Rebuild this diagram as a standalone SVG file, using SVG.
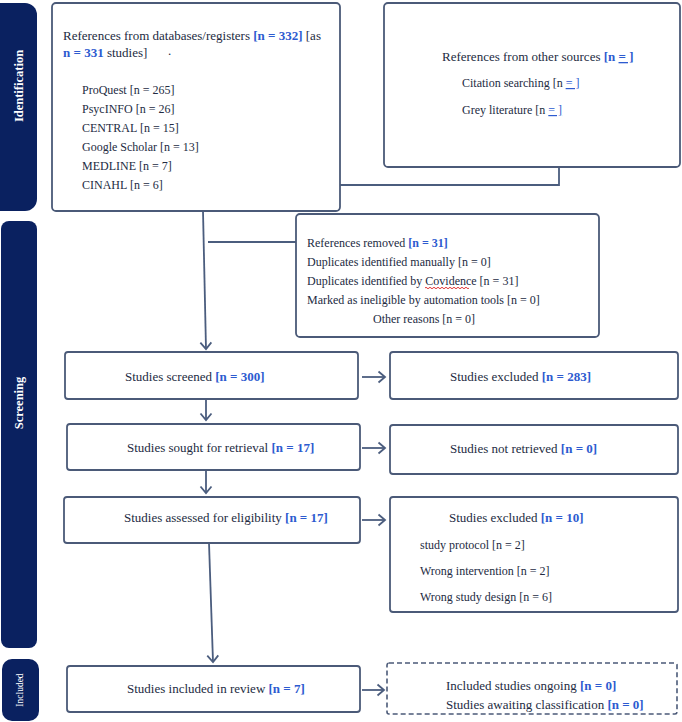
<svg xmlns="http://www.w3.org/2000/svg" width="682" height="722" viewBox="0 0 682 722">
<style>
.box{fill:#fff;stroke:#4b5a78;stroke-width:1.8}
.dash{fill:#fff;stroke:#4b5a78;stroke-width:1.6;stroke-dasharray:5,3}
.bar{fill:#0a2160}
.t{font-family:"Liberation Serif","DejaVu Serif","Times New Roman",serif;font-size:13px;fill:#232b42}
.s{font-size:12px}
.b{fill:#2d5bd0;font-weight:bold}
.u{fill:#2d5bd0;text-decoration:underline}
.side{font-family:"Liberation Serif","DejaVu Serif","Times New Roman",serif;font-weight:bold;fill:#fff;font-size:12.5px}
.c{fill:none;stroke:#4b5d7e;stroke-width:1.8}
</style>
<defs>
<marker id="ah" markerUnits="userSpaceOnUse" markerWidth="14" markerHeight="14" viewBox="-8 -7 10 14" refX="0" refY="0" orient="auto">
<path d="M-6.5,-5.5 L0,0 L-6.5,5.5" fill="none" stroke="#4b5d7e" stroke-width="1.8"/>
</marker>
</defs>
<rect width="682" height="722" fill="#fff"/>

<g id="bar-identification">
<rect class="bar" x="-14" y="3" width="51" height="208" rx="12"/>
<text class="side" transform="translate(23,86) rotate(-90)" text-anchor="middle">Identification</text>
</g>
<g id="bar-screening">
<rect class="bar" x="1" y="221" width="36" height="427" rx="8"/>
<text class="side" transform="translate(23,403) rotate(-90)" text-anchor="middle">Screening</text>
</g>
<g id="bar-included">
<rect class="bar" x="2" y="659" width="37" height="62" rx="10"/>
<text class="side" transform="translate(23,690) rotate(-90)" text-anchor="middle" style="font-size:9.5px;font-weight:normal">Included</text>
</g>

<g id="connectors">
<path class="c" d="M203,211 L206,349" marker-end="url(#ah)"/>
<path class="c" d="M208,242 H296"/>
<path class="c" d="M559,167 V185 H244"/>
<path class="c" d="M362,377 H385" marker-end="url(#ah)"/>
<path class="c" d="M206,399 V420" marker-end="url(#ah)"/>
<path class="c" d="M362,448 H385" marker-end="url(#ah)"/>
<path class="c" d="M206,470 V493" marker-end="url(#ah)"/>
<path class="c" d="M362,520 H385" marker-end="url(#ah)"/>
<path class="c" d="M209,543 L213,662" marker-end="url(#ah)"/>
<path class="c" d="M362,690 H384" marker-end="url(#ah)"/>
</g>

<g id="node-databases">
<rect class="box" x="52" y="3" width="288" height="208" rx="4"/>
<text class="t" x="63" y="40">References from databases/registers <tspan class="b">[n = 332]</tspan> [as</text>
<text class="t" x="63" y="57"><tspan class="b">n = 331</tspan> studies]</text>
<text class="t" x="168" y="55">.</text>
<text class="t s" x="82" y="94">ProQuest [n = 265]</text>
<text class="t s" x="82" y="113">PsycINFO [n = 26]</text>
<text class="t s" x="82" y="132">CENTRAL [n = 15]</text>
<text class="t s" x="82" y="151">Google Scholar [n = 13]</text>
<text class="t s" x="82" y="170">MEDLINE [n = 7]</text>
<text class="t s" x="82" y="189">CINAHL [n = 6]</text>
</g>

<g id="node-other-sources">
<rect class="box" x="384" y="3" width="296" height="164" rx="4"/>
<text class="t" x="442" y="61">References from other sources <tspan class="b">[n </tspan><tspan class="u" font-weight="bold">= ]</tspan></text>
<text class="t s" x="462" y="87">Citation searching [n <tspan class="u">= ]</tspan></text>
<text class="t s" x="462" y="114">Grey literature [n <tspan class="u">= ]</tspan></text>
</g>

<g id="node-removed">
<rect class="box" x="296" y="214" width="303" height="123" rx="4"/>
<text class="t s" x="307" y="247">References removed <tspan class="b">[n = 31]</tspan></text>
<text class="t s" x="307" y="266">Duplicates identified manually [n = 0]</text>
<text class="t s" x="307" y="285">Duplicates identified by Covidence [n = 31]</text>
<path d="M425,288 q1,-1.5 2,0 t2,0 t2,0 t2,0 t2,0 t2,0 t2,0 t2,0 t2,0 t2,0 t2,0 t2,0 t2,0 t2,0 t2,0 t2,0 t2,0 t2,0 t2,0 t2,0 t2,0 t2,0" fill="none" stroke="#d22" stroke-width="0.9"/>
<text class="t s" x="307" y="304">Marked as ineligible by automation tools [n = 0]</text>
<text class="t s" x="373" y="323">Other reasons [n = 0]</text>
</g>

<g id="node-screened">
<rect class="box" x="65" y="352" width="293" height="47" rx="3"/>
<text class="t" x="125" y="381">Studies screened <tspan class="b">[n = 300]</tspan></text>
</g>
<g id="node-excluded-283">
<rect class="box" x="390" y="352" width="288" height="47" rx="3"/>
<text class="t" x="450" y="381">Studies excluded <tspan class="b">[n = 283]</tspan></text>
</g>
<g id="node-sought">
<rect class="box" x="67" y="424" width="293" height="46" rx="3"/>
<text class="t" x="127" y="452">Studies sought for retrieval <tspan class="b">[n = 17]</tspan></text>
</g>
<g id="node-not-retrieved">
<rect class="box" x="390" y="425" width="288" height="49" rx="3"/>
<text class="t" x="450" y="453">Studies not retrieved <tspan class="b">[n = 0]</tspan></text>
</g>
<g id="node-assessed">
<rect class="box" x="64" y="497" width="296" height="46" rx="3"/>
<text class="t" x="124" y="522">Studies assessed for eligibility <tspan class="b">[n = 17]</tspan></text>
</g>
<g id="node-excluded-10">
<rect class="box" x="390" y="497" width="288" height="115" rx="3"/>
<text class="t" x="449" y="522">Studies excluded <tspan class="b">[n = 10]</tspan></text>
<text class="t s" x="420" y="549">study protocol [n = 2]</text>
<text class="t s" x="420" y="575">Wrong intervention [n = 2]</text>
<text class="t s" x="420" y="601">Wrong study design [n = 6]</text>
</g>
<g id="node-included">
<rect class="box" x="67" y="666" width="293" height="46" rx="3"/>
<text class="t" x="127" y="693">Studies included in review <tspan class="b">[n = 7]</tspan></text>
</g>
<g id="node-ongoing">
<rect class="dash" x="387" y="663" width="290" height="51" rx="2"/>
<text class="t" x="446" y="690">Included studies ongoing <tspan class="b">[n = 0]</tspan></text>
<text class="t" x="446" y="709">Studies awaiting classification <tspan class="b">[n = 0]</tspan></text>
</g>
</svg>
